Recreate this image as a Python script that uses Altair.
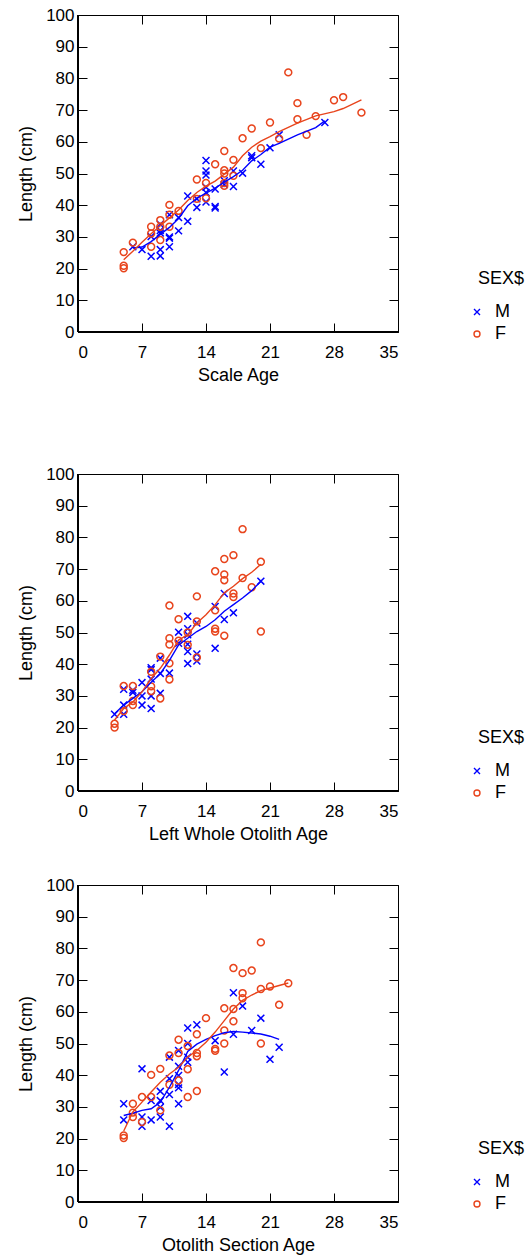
import altair as alt
import pandas as pd

# ---------------- data ----------------
X_TICKS = [0, 7, 14, 21, 28, 35]
Y_TICKS = [0, 10, 20, 30, 40, 50, 60, 70, 80, 90, 100]
SEX_DOMAIN = ["M", "F"]
SEX_COLORS = ["#0000ff", "#e8441c"]
FRAME_EDGE = [0]

# Panel 1: Scale Age
s_m_age = [6, 7, 8, 8, 9, 9, 9, 9, 9, 10, 10, 10, 10, 11, 11, 12, 12, 13, 13,
           14, 14, 14, 14, 14, 14, 15, 15, 15, 16, 16, 17, 17, 18, 19, 19, 20, 21, 22, 27]
s_m_len = [26.9, 26.0, 30.1, 23.9, 34.0, 32.0, 31.2, 26.0, 24.0, 37.0, 30.0, 29.6, 26.9, 36.1, 31.9,
           42.9, 34.9, 42.0, 39.3, 54.1, 50.8, 49.5, 45.7, 44.0, 41.0, 45.1, 39.6, 39.1, 47.7, 46.5,
           50.8, 45.9, 50.1, 55.6, 55.0, 52.9, 58.1, 62.2, 66.1]
s_f_age = [5, 5, 5, 6, 8, 8, 8, 9, 9, 9, 10, 10, 10, 11, 13, 13, 14, 14, 15, 16, 16, 16, 16, 16,
           17, 17, 18, 19, 20, 21, 22, 23, 24, 24, 25, 26, 28, 29, 31]
s_f_len = [25.2, 20.9, 20.1, 28.2, 33.2, 31.1, 26.9, 35.3, 33.2, 29.0, 40.1, 37.0, 33.2, 38.2, 48.1,
           42.0, 47.0, 42.2, 52.9, 57.1, 51.0, 50.0, 47.0, 46.1, 54.3, 49.3, 61.1, 64.2, 58.0, 66.1,
           61.0, 81.9, 72.2, 67.1, 62.2, 68.1, 73.1, 74.1, 69.2]
s_lm_age = [6, 7, 8, 9, 10, 11, 12, 13, 14, 15, 16, 17, 18, 19, 20, 21, 22, 24, 26, 27]
s_lm_len = [26.5, 26.8, 28.5, 30.8, 33.0, 35.8, 39.8, 42.2, 43.8, 45.4, 47.3, 49.0, 51.0, 54.0,
            56.0, 58.3, 59.5, 62.2, 64.5, 66.6]
s_lf_age = [5, 6, 7, 8, 9, 10, 11, 12, 13, 14, 15, 16, 17, 18, 19, 20, 21, 22, 24, 26, 28, 29, 31]
s_lf_len = [22.8, 25.5, 28.3, 31.0, 33.5, 36.0, 38.5, 41.5, 44.0, 46.0, 47.6, 49.8, 52.0, 55.6,
            58.3, 60.2, 61.6, 63.2, 65.9, 68.2, 69.5, 70.5, 73.2]

# Panel 2: Left Whole Otolith Age
w_m_age = [4, 5, 5, 5, 6, 6, 7, 7, 7, 8, 8, 8, 8, 8, 9, 9, 9, 10, 11, 11, 12, 12, 12, 12, 12, 12,
           13, 13, 13, 15, 15, 16, 16, 17, 20]
w_m_len = [24.2, 32.1, 27.1, 24.2, 31.8, 31.1, 34.2, 30.0, 27.1, 38.9, 38.3, 35.3, 30.0, 26.0,
           41.9, 37.1, 30.8, 37.2, 50.1, 46.6, 55.1, 51.2, 49.3, 46.3, 44.0, 40.2, 53.0, 43.2, 41.0,
           58.2, 45.0, 62.3, 54.1, 56.2, 66.2]
w_f_age = [4, 4, 5, 5, 6, 6, 6, 8, 8, 8, 9, 9, 10, 10, 10, 10, 10, 11, 11, 12, 12, 13, 13, 13,
           15, 15, 15, 15, 16, 16, 16, 16, 17, 17, 17, 18, 18, 19, 20, 20]
w_f_len = [21.2, 20.0, 33.1, 25.2, 33.1, 28.4, 27.1, 37.6, 33.0, 31.5, 42.4, 29.2, 58.5, 48.2,
           46.2, 40.3, 35.2, 54.2, 47.4, 50.0, 46.1, 61.4, 53.5, 42.1, 69.3, 57.0, 51.2, 50.3,
           73.2, 68.3, 66.5, 49.0, 74.4, 62.3, 61.2, 82.6, 67.2, 64.3, 72.3, 50.3]
w_lm_age = [4, 5, 6, 7, 8, 9, 10, 11, 12, 13, 14, 15, 16, 17, 18, 19, 20]
w_lm_len = [24.4, 27.1, 29.2, 31.3, 34.3, 37.0, 41.2, 46.1, 48.2, 50.3, 51.9, 54.0, 56.7, 58.8,
            60.9, 63.2, 66.2]
w_lf_age = [4, 5, 6, 7, 8, 9, 10, 11, 12, 13, 14, 15, 16, 17, 18, 19, 20]
w_lf_len = [22.4, 26.0, 28.1, 31.3, 35.5, 38.7, 42.9, 47.6, 49.3, 53.0, 55.6, 58.8, 62.5, 64.6,
            67.0, 69.0, 71.5]

# Panel 3: Otolith Section Age
o_m_age = [5, 5, 7, 7, 7, 8, 8, 9, 9, 9, 9, 10, 10, 10, 10, 11, 11, 11, 11, 11, 11, 12, 12, 12,
           12, 13, 15, 16, 17, 17, 18, 19, 20, 21, 22]
o_m_len = [31.0, 25.9, 42.0, 26.8, 23.9, 32.0, 25.9, 34.9, 32.0, 29.9, 26.8, 45.7, 38.9, 33.9,
           23.9, 47.8, 42.8, 39.9, 37.1, 36.0, 31.0, 54.9, 50.0, 45.7, 44.1, 55.9, 50.9, 41.0,
           66.0, 52.9, 61.8, 54.1, 58.0, 45.0, 48.8]
o_f_age = [5, 5, 6, 6, 6, 7, 7, 8, 8, 9, 9, 10, 10, 11, 11, 11, 12, 12, 12, 13, 13, 13, 13, 14,
           15, 15, 16, 16, 16, 17, 17, 17, 18, 18, 18, 19, 20, 20, 20, 21, 22, 23]
o_f_len = [21.0, 20.2, 31.0, 28.2, 26.8, 33.1, 25.2, 40.1, 33.1, 42.0, 28.9, 46.2, 37.0, 51.2,
           47.0, 38.3, 49.2, 41.9, 33.1, 52.9, 47.0, 46.0, 35.0, 58.0, 48.3, 47.7, 61.1, 54.1,
           50.0, 73.8, 60.9, 57.0, 72.2, 65.9, 64.3, 73.0, 81.9, 67.2, 50.0, 68.0, 62.2, 69.0]
o_lm_age = [5, 6, 7, 8, 9, 10, 11, 12, 13, 14, 15, 16, 17, 18, 19, 20, 21, 22]
o_lm_len = [27.3, 28.0, 28.9, 29.4, 31.5, 36.2, 41.5, 47.5, 49.8, 51.3, 52.5, 53.4, 53.8, 53.6,
            53.3, 53.0, 52.3, 51.3]
o_lf_age = [5, 6, 7, 8, 9, 10, 11, 12, 13, 14, 15, 16, 17, 18, 19, 20, 21, 22, 23]
o_lf_len = [22.4, 28.4, 31.5, 34.7, 37.8, 40.4, 42.5, 45.7, 47.8, 50.4, 53.6, 57.2, 60.9, 63.6,
            65.3, 66.7, 67.5, 68.3, 69.1]

# ---------------- chart ----------------
W, H = 320, 317
FONT = "Liberation Sans"
XPATH = "M-1,-1L1,1M-1,1L1,-1"
LEGEND_TITLE = "\u00a0\u00a0SEX$"


def panel(ma, ml, fa, fl, lma, lml, lfa, lfl, xtitle):
    pts = pd.DataFrame({
        "age": ma + fa,
        "len": ml + fl,
        "sex": ["M"] * len(ma) + ["F"] * len(fa),
    })
    lm = pd.DataFrame({"age": lma, "len": lml})
    lf = pd.DataFrame({"age": lfa, "len": lfl})
    edge = pd.DataFrame({"v": FRAME_EDGE})
    xs = alt.Scale(domain=[0, 35], nice=False, zero=False)
    ys = alt.Scale(domain=[0, 100], nice=False)

    leg = alt.Legend(title=LEGEND_TITLE, orient="none", legendX=400, legendY=255,
                     padding=0, symbolSize=36, symbolStrokeWidth=1.4, symbolOffset=-10,
                     labelOffset=9, rowPadding=4, titlePadding=15)

    points = alt.Chart(pts).mark_point(filled=False, size=48, strokeWidth=1.5, opacity=1).encode(
        x=alt.X("age:Q", scale=xs, axis=alt.Axis(
            title=xtitle, orient="bottom", values=X_TICKS, offset=-9, tickSize=9,
            domain=False, grid=False, labelPadding=12, titlePadding=6)),
        y=alt.Y("len:Q", scale=ys, axis=alt.Axis(
            title="Length (cm)", orient="left", values=Y_TICKS, offset=-9, tickSize=9,
            domain=False, grid=False, labelPadding=4, titlePadding=10)),
        color=alt.Color("sex:N", scale=alt.Scale(domain=SEX_DOMAIN, range=SEX_COLORS), legend=leg),
        shape=alt.Shape("sex:N", scale=alt.Scale(domain=SEX_DOMAIN, range=[XPATH, "circle"]), legend=leg),
    )
    line_m = alt.Chart(lm).mark_line(color=SEX_COLORS[0], strokeWidth=1.4).encode(
        x=alt.X("age:Q", scale=xs, axis=alt.Axis(
            orient="top", values=X_TICKS, offset=-9, tickSize=9, domain=False,
            labels=False, grid=False, title=None)),
        y=alt.Y("len:Q", scale=ys, axis=alt.Axis(
            orient="right", values=Y_TICKS, offset=-9, tickSize=9, domain=False,
            labels=False, grid=False, title=None)),
    )
    line_f = alt.Chart(lf).mark_line(color=SEX_COLORS[1], strokeWidth=1.4).encode(
        x=alt.X("age:Q", scale=xs, axis=None),
        y=alt.Y("len:Q", scale=ys, axis=None),
    )
    left_edge = alt.Chart(edge).mark_rule(color="black", strokeWidth=2).encode(
        x=alt.X("v:Q", scale=xs, axis=None))
    bottom_edge = alt.Chart(edge).mark_rule(color="black", strokeWidth=2).encode(
        y=alt.Y("v:Q", scale=ys, axis=None))
    return alt.layer(points, line_m, line_f, left_edge, bottom_edge).resolve_axis(
        x="independent", y="independent").properties(width=W, height=H)


p1 = panel(s_m_age, s_m_len, s_f_age, s_f_len, s_lm_age, s_lm_len, s_lf_age, s_lf_len, "Scale Age")
p2 = panel(w_m_age, w_m_len, w_f_age, w_f_len, w_lm_age, w_lm_len, w_lf_age, w_lf_len,
           "Left Whole Otolith Age")
p3 = panel(o_m_age, o_m_len, o_f_age, o_f_len, o_lm_age, o_lm_len, o_lf_age, o_lf_len,
           "Otolith Section Age")

top = alt.vconcat(p1, p2, spacing=79).resolve_scale(
    color="independent", shape="independent").resolve_legend(
    color="independent", shape="independent")
chart = alt.vconcat(top, p3, spacing=31).resolve_scale(
    color="independent", shape="independent").resolve_legend(
    color="independent", shape="independent").properties(
    padding={"left": 17, "top": 5, "right": 0, "bottom": 0}
).configure(
    font=FONT,
).configure_view(
    stroke="black", strokeWidth=1, fill="white"
).configure_axis(
    labelFont=FONT, titleFont=FONT, labelFontSize=17, titleFontSize=18,
    titleFontWeight="normal", labelColor="black", titleColor="black",
    tickColor="black", tickWidth=1,
).configure_legend(
    labelFont=FONT, titleFont=FONT, labelFontSize=18, titleFontSize=18,
    titleFontWeight="normal", labelColor="black", titleColor="black",
)

chart.save("out.html", embed_options={"renderer": "svg", "actions": False})
